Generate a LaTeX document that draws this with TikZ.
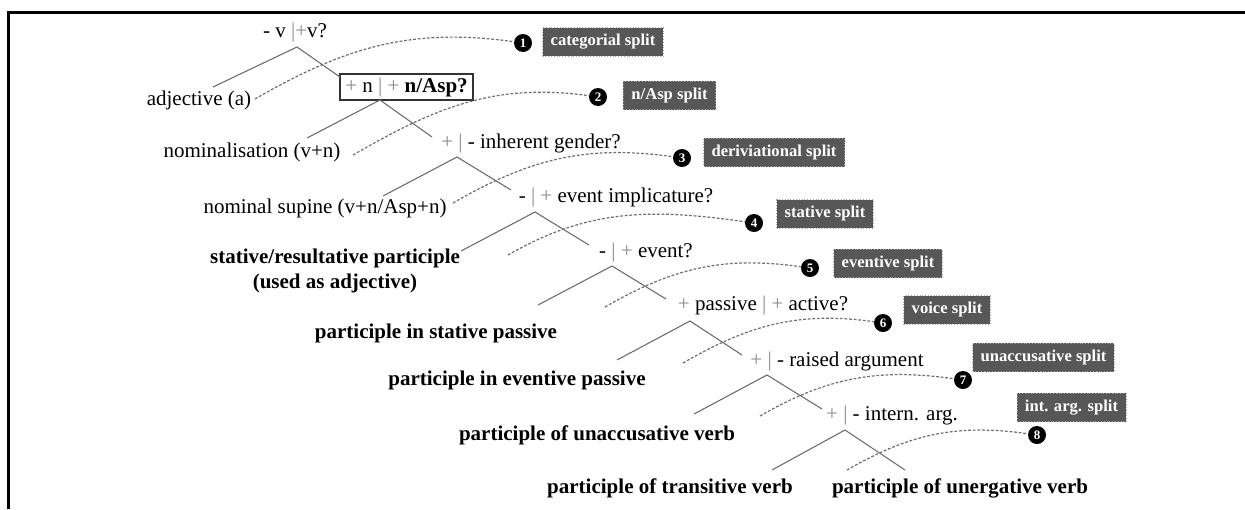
\documentclass[tikz,border=0pt]{standalone}
\usepackage{fontspec}
\setmainfont{Liberation Serif}
\usetikzlibrary{positioning}

\definecolor{labelgray}{HTML}{575757}
\definecolor{linegray}{HTML}{6E6E6E}
\definecolor{signgray}{HTML}{8A8A8A}

\newcommand{\plusg}{\textcolor{signgray}{+}}
\newcommand{\barg}{\textcolor{signgray}{|}}

\tikzstyle{feature} = [inner sep=0pt, font=\fontsize{10.5}{12}\selectfont]
\tikzstyle{leaf} = [inner sep=0pt, align=center, font=\fontsize{10.5}{12.5}\selectfont]
\tikzstyle{bleaf} = [inner sep=0pt, align=center, font=\fontsize{10.5}{12.5}\selectfont\bfseries]
\tikzstyle{branch} = [draw=linegray, line width=0.55pt]
\tikzstyle{split} = [draw=linegray, line width=0.6pt, dash pattern=on 1.4pt off 0.9pt]
\tikzstyle{bullet} = [circle, fill=black, minimum size=9pt, inner sep=0pt, text=white, font=\fontsize{6.5}{6.5}\selectfont\bfseries]
\tikzstyle{splitlabel} = [rectangle, fill=labelgray, draw=black!35, densely dotted, text=white, minimum height=14pt, inner xsep=4pt, font=\fontsize{8.3}{9}\selectfont\bfseries]

\begin{document}
\begin{tikzpicture}[x=0.5pt, y=0.5pt]
    \useasboundingbox (0,0) rectangle (1245,-509);
    \draw [line width=1.5pt] (8,-509) -- (8,-12) -- (1245,-12);

    % leaves
    \node (adj) [leaf] at (199,-100) {adjective (a)};
    \node (nomi) [leaf] at (252,-152) {nominalisation (v+n)};
    \node (sup) [leaf] at (325,-208) {nominal supine (v+n/Asp+n)};
    \node (stat) [bleaf] at (335,-271) {stative/resultative participle\\(used as adjective)};
    \node (spass) [bleaf] at (436,-333) {participle in stative passive};
    \node (epass) [bleaf] at (517,-380) {participle in eventive passive};
    \node (unacc) [bleaf] at (597,-435) {participle of unaccusative verb};
    \node (trans) [bleaf] at (670,-488) {participle of transitive verb};
    \node (unerg) [bleaf] at (960,-488) {participle of unergative verb};

    % features
    \node (f1) [feature] at (295,-32) {- v \barg\plusg v?};
    \node (f2) [feature, draw=black!80, line width=0.6pt, minimum width=66.5pt, minimum height=13pt] at (406.5,-87) {\plusg{} n \barg{} \plusg{} \textbf{n/Asp?}};
    \node (f3) [feature] at (531,-143) {\plusg{} \barg{} - inherent gender?};
    \node (f4) [feature] at (616,-197) {- \barg{} \plusg{} event implicature?};
    \node (f5) [feature] at (646,-252) {- \barg{} \plusg{} event?};
    \node (f6) [feature] at (763,-305) {\plusg{} passive \barg{} \plusg{} active?};
    \node (f7) [feature] at (837,-361) {\plusg{} \barg{} - raised argument};
    \node (f8) [feature] at (892,-415) {\plusg{} \barg{} - intern. arg.};

    % branch points
    \coordinate (a1) at (297,-47);  \coordinate (l1) at (213,-87);  \coordinate (r1) at (340,-77);
    \coordinate (a2) at (380,-100); \coordinate (l2) at (307,-138); \coordinate (r2) at (432,-137);
    \coordinate (a3) at (457,-157); \coordinate (l3) at (383,-196); \coordinate (r3) at (511,-190);
    \coordinate (a4) at (535,-212); \coordinate (l4) at (461,-251); \coordinate (r4) at (589,-245);
    \coordinate (a5) at (612,-266); \coordinate (l5) at (538,-305); \coordinate (r5) at (666,-299);
    \coordinate (a6) at (690,-321); \coordinate (l6) at (617,-360); \coordinate (r6) at (742,-355);
    \coordinate (a7) at (767,-375); \coordinate (l7) at (694,-414); \coordinate (r7) at (822,-409);
    \coordinate (a8) at (845,-430); \coordinate (l8) at (772,-470); \coordinate (r8) at (905,-470);

    \draw [branch] (l1) -- (a1) -- (r1);
    \draw [branch] (l2) -- (a2) -- (r2);
    \draw [branch] (l3) -- (a3) -- (r3);
    \draw [branch] (l4) -- (a4) -- (r4);
    \draw [branch] (l5) -- (a5) -- (r5);
    \draw [branch] (l6) -- (a6) -- (r6);
    \draw [branch] (l7) -- (a7) -- (r7);
    \draw [branch] (l8) -- (a8) -- (r8);

    % splits
    \node (b1) [bullet] at (523,-43) {1};
    \node (b2) [bullet] at (598,-97) {2};
    \node (b3) [bullet] at (682,-158) {3};
    \node (b4) [bullet] at (754,-223) {4};
    \node (b5) [bullet] at (810,-268) {5};
    \node (b6) [bullet] at (883,-323) {6};
    \node (b7) [bullet] at (963,-380) {7};
    \node (b8) [bullet] at (1037,-435) {8};

    \node (s1) [splitlabel] at (603,-42) {categorial split};
    \node (s2) [splitlabel] at (669.5,-95.5) {n/Asp split};
    \node (s3) [splitlabel] at (774,-152.5) {deriviational split};
    \node (s4) [splitlabel] at (825,-214) {stative split};
    \node (s5) [splitlabel] at (888,-263.5) {eventive split};
    \node (s6) [splitlabel] at (947,-310) {voice split};
    \node (s7) [splitlabel] at (1043.5,-357.5) {unaccusative split};
    \node (s8) [splitlabel] at (1071.5,-407.5) {int. arg. split};

    \coordinate (d1) at (255,-99);
    \coordinate (d2) at (353,-155);
    \coordinate (d3) at (453,-203);
    \coordinate (d4) at (508,-255);
    \coordinate (d5) at (605,-307);
    \coordinate (d6) at (683,-363);
    \coordinate (d7) at (760,-416);
    \coordinate (d8) at (847,-470);

    \draw [split] (d1) to[out=30,in=172] (b1);
    \draw [split] (d2) to[out=30,in=172] (b2);
    \draw [split] (d3) to[out=30,in=172] (b3);
    \draw [split] (d4) to[out=30,in=172] (b4);
    \draw [split] (d5) to[out=30,in=172] (b5);
    \draw [split] (d6) to[out=30,in=172] (b6);
    \draw [split] (d7) to[out=30,in=172] (b7);
    \draw [split] (d8) to[out=30,in=172] (b8);

\end{tikzpicture}
\end{document}
